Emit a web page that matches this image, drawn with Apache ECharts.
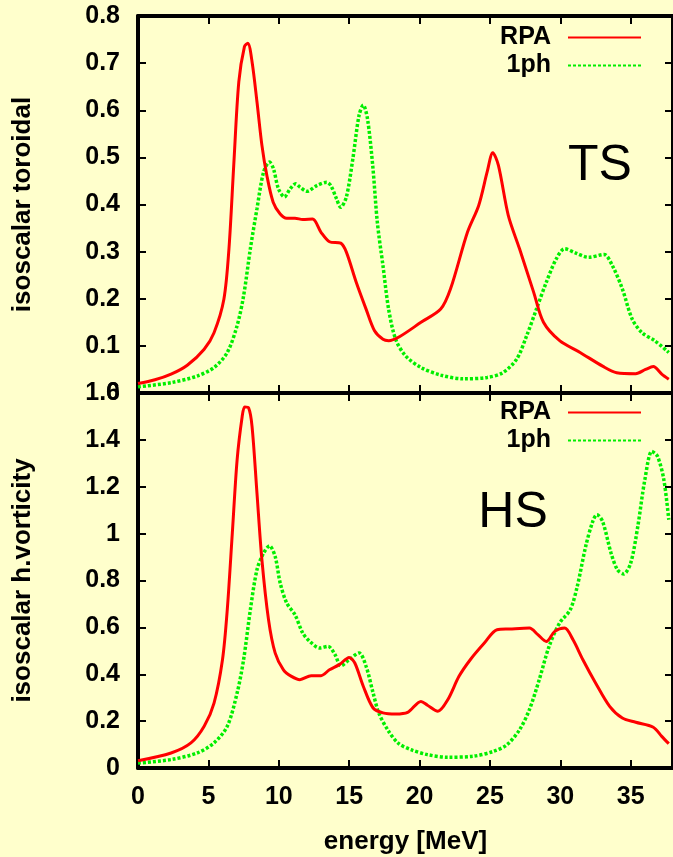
<!DOCTYPE html>
<html>
<head>
<meta charset="utf-8">
<script src="https://cdn.jsdelivr.net/npm/echarts@6/dist/echarts.min.js"></script>
<style>
html,body{margin:0;padding:0;background:#ffffcc;}
#chart{width:673px;height:857px;}
</style>
</head>
<body>
<div id="chart"></div>
<script>
// ---------- data ----------
const seriesNames = ['RPA', '1ph'];
const panelLabels = ['TS', 'HS'];
const yAxisNames = ['isoscalar toroidal', 'isoscalar h.vorticity'];
const xAxisName = 'energy [MeV]';
const xTicks = [0, 5, 10, 15, 20, 25, 30, 35];
const topYTicks = [0, 0.1, 0.2, 0.3, 0.4, 0.5, 0.6, 0.7, 0.8];
const botYTicks = [0, 0.2, 0.4, 0.6, 0.8, 1, 1.2, 1.4, 1.6];

const tsRpaE = [0,1.2,2.35,3.5,4.7,5.4,6.1,6.46,6.8,7.16,7.56,7.8,8.1,8.45,8.8,9.15,9.6,10.1,10.56,11.15,11.7,12.4,13.0,13.6,14.4,14.8,15.5,16.2,16.8,17.4,17.8,18.6,20.1,21.5,22.2,23.4,24.2,24.8,25.2,25.6,26.3,27.1,28.1,28.8,29.95,31.4,33.0,34.0,35.35,36.05,36.6,37.2,37.7];
const tsRpaV = [0.020,0.028,0.040,0.059,0.093,0.128,0.199,0.306,0.483,0.66,0.735,0.742,0.703,0.618,0.526,0.462,0.405,0.380,0.371,0.371,0.368,0.369,0.341,0.321,0.318,0.299,0.235,0.178,0.132,0.114,0.111,0.120,0.150,0.178,0.221,0.341,0.398,0.469,0.510,0.483,0.377,0.306,0.214,0.150,0.111,0.086,0.057,0.043,0.041,0.050,0.056,0.040,0.029];

const ts1phE = [0,2.35,4.2,5.4,6.34,7.04,7.5,7.98,8.45,8.92,9.34,9.62,9.98,10.4,10.8,11.2,11.5,12.0,12.7,13.4,13.7,14.1,14.4,14.8,15.26,15.7,16.0,16.3,16.67,17.0,17.4,17.8,18.3,19.0,20.1,21.5,23.1,24.8,25.9,26.9,27.6,28.3,29.0,29.7,30.3,31.1,32.0,33.1,33.7,34.4,35.1,35.8,36.7,37.7];
const ts1phV = [0.013,0.022,0.036,0.054,0.086,0.143,0.206,0.306,0.391,0.469,0.490,0.476,0.433,0.416,0.433,0.444,0.437,0.428,0.440,0.447,0.440,0.412,0.394,0.416,0.497,0.589,0.611,0.582,0.483,0.362,0.270,0.178,0.114,0.079,0.054,0.038,0.030,0.033,0.043,0.072,0.121,0.178,0.235,0.284,0.306,0.297,0.288,0.294,0.270,0.221,0.157,0.128,0.111,0.086];

const hsRpaE = [0,2.35,3.76,4.7,5.4,6.0,6.34,6.7,7.04,7.4,7.58,7.86,8.1,8.45,8.8,9.27,9.74,10.33,10.9,11.5,12.3,13.0,13.6,14.3,15.0,15.4,16.0,16.7,17.4,18.3,19.15,20.1,20.56,21.3,22.0,22.8,23.6,24.6,25.5,26.4,27.8,28.4,29.0,29.6,30.3,30.9,31.6,32.5,33.5,34.4,35.35,36.6,37.2,37.7];
const hsRpaV = [0.031,0.064,0.107,0.178,0.277,0.462,0.675,1.003,1.315,1.50,1.54,1.536,1.458,1.173,0.889,0.633,0.491,0.419,0.391,0.377,0.394,0.394,0.419,0.441,0.472,0.448,0.349,0.256,0.235,0.230,0.237,0.284,0.268,0.242,0.291,0.391,0.462,0.533,0.59,0.593,0.597,0.569,0.540,0.583,0.597,0.547,0.462,0.363,0.263,0.213,0.195,0.174,0.135,0.104];

const hs1phE = [0,2.35,4.2,5.4,6.34,7.04,7.5,7.98,8.45,8.92,9.34,9.74,10.1,10.56,11.15,11.7,12.2,12.9,13.5,14.0,14.4,15.0,15.7,16.2,16.7,17.1,17.8,18.5,19.4,20.56,22.0,23.8,25.25,26.2,27.1,27.8,28.5,29.2,29.95,30.7,31.2,31.8,32.3,32.6,33.0,33.6,34.05,34.5,35.0,35.5,36.0,36.5,36.9,37.35,37.7];
const hs1phV = [0.021,0.036,0.064,0.107,0.178,0.32,0.462,0.675,0.846,0.917,0.948,0.903,0.789,0.704,0.654,0.576,0.540,0.512,0.519,0.483,0.436,0.462,0.491,0.434,0.32,0.235,0.157,0.105,0.078,0.057,0.046,0.050,0.071,0.099,0.163,0.249,0.377,0.519,0.619,0.675,0.775,0.946,1.052,1.081,1.052,0.917,0.846,0.828,0.875,1.031,1.23,1.351,1.33,1.23,1.059];

// ---------- chart ----------
const FONT = '"Liberation Sans", Arial, Helvetica, sans-serif';
const pair = (xs, ys) => xs.map((x, i) => [x, ys[i]]);
const xMin = 0, xMax = 38;

const grids = [
  {left: 138, width: 537, top: 16, height: 377},
  {left: 138, width: 537, top: 393, height: 375}
];

const axLine = {show: true, onZero: false, lineStyle: {color: '#000', width: 4}};
const axTick = {show: true, inside: true, length: 8, lineStyle: {color: '#000', width: 2}};

function xAxisCfg(gi, pos, showLabels) {
  return {
    type: 'value', gridIndex: gi, position: pos, min: xMin, max: xMax, interval: 5,
    axisLine: axLine, axisTick: axTick, splitLine: {show: false},
    axisLabel: {
      show: showLabels, margin: 17, showMaxLabel: false,
      fontFamily: FONT, fontWeight: 'bold', fontSize: 25, color: '#000',
      formatter: v => xTicks.includes(v) ? String(v) : ''
    },
    name: showLabels ? xAxisName : '', nameLocation: 'middle', nameGap: 61,
    nameTextStyle: {fontFamily: FONT, fontWeight: 'bold', fontSize: 26, color: '#000'}
  };
}
function yAxisCfg(gi, pos, max, interval, ticks, showLabels, name) {
  return {
    type: 'value', gridIndex: gi, position: pos, min: 0, max: max, interval: interval,
    axisLine: axLine, axisTick: axTick, splitLine: {show: false},
    axisLabel: {
      show: showLabels, margin: 18,
      fontFamily: FONT, fontWeight: 'bold', fontSize: 25, color: '#000',
      formatter: v => { const t = ticks.find(k => Math.abs(k - v) < 1e-9); return t === undefined ? '' : String(t); }
    },
    name: name, nameLocation: 'middle', nameGap: 102, nameRotate: 90,
    nameTextStyle: {fontFamily: FONT, fontWeight: 'bold', fontSize: 26, color: '#000'}
  };
}

const redStyle = {color: '#ff0000', width: 3, type: 'solid'};
const greenStyle = {color: '#00ee00', width: 3.5, type: [3, 2]};

function lineSeries(name, xi, yi, data, style) {
  return {
    name: name, type: 'line', xAxisIndex: xi, yAxisIndex: yi, data: data,
    showSymbol: false, symbol: 'none', smooth: 0.3, lineStyle: style,
    itemStyle: {color: style.color}, animation: false, z: name === 'RPA' ? 3 : 2
  };
}

function legendCfg(top) {
  return {
    orient: 'vertical', right: 31, top: top, align: 'right', padding: 0,
    data: seriesNames, itemWidth: 73, itemHeight: 24, itemGap: 3,
    selectedMode: false,
    itemStyle: {opacity: 0},
    textStyle: {fontFamily: FONT, fontWeight: 'bold', fontSize: 25, color: '#000', lineHeight: 24, padding: [0, 12, 0, 0]}
  };
}

const option = {
  backgroundColor: '#ffffcc',
  animation: false,
  grid: grids,
  xAxis: [
    xAxisCfg(0, 'bottom', false), xAxisCfg(0, 'top', false),
    xAxisCfg(1, 'bottom', true), xAxisCfg(1, 'top', false)
  ],
  yAxis: [
    yAxisCfg(0, 'left', 0.8, 0.1, topYTicks, true, yAxisNames[0]),
    yAxisCfg(0, 'right', 0.8, 0.1, topYTicks, false, ''),
    yAxisCfg(1, 'left', 1.6, 0.2, botYTicks, true, yAxisNames[1]),
    yAxisCfg(1, 'right', 1.6, 0.2, botYTicks, false, '')
  ],
  legend: [legendCfg(25), legendCfg(400)],
  series: [
    lineSeries(seriesNames[1], 0, 0, pair(ts1phE, ts1phV), greenStyle),
    lineSeries(seriesNames[0], 0, 0, pair(tsRpaE, tsRpaV), redStyle),
    lineSeries(seriesNames[1], 2, 2, pair(hs1phE, hs1phV), greenStyle),
    lineSeries(seriesNames[0], 2, 2, pair(hsRpaE, hsRpaV), redStyle)
  ],
  graphic: [
    {type: 'text', x: 600, y: 166, style: {text: panelLabels[0], fontFamily: FONT, fontSize: 50, fill: '#000', align: 'center', verticalAlign: 'middle'}},
    {type: 'text', x: 513, y: 513, style: {text: panelLabels[1], fontFamily: FONT, fontSize: 50, fill: '#000', align: 'center', verticalAlign: 'middle'}}
  ]
};

const chart = echarts.init(document.getElementById('chart'), null, {renderer: 'canvas'});
chart.setOption(option);
</script>
</body>
</html>
